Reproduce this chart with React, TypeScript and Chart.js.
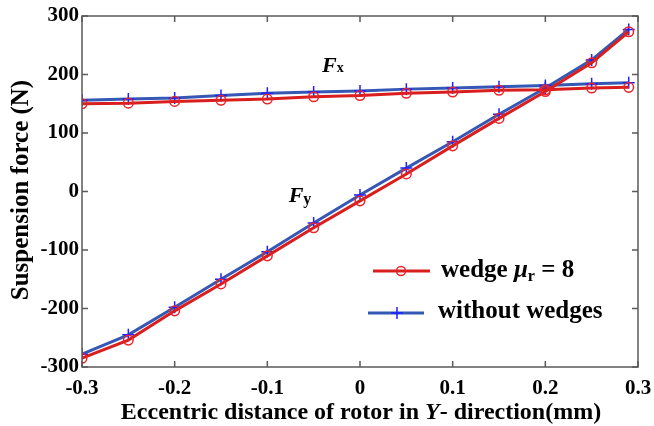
import React, { useEffect, useRef } from "react";
import { Chart, registerables } from "chart.js";

Chart.register(...registerables);

const xValues = [-0.3, -0.25, -0.2, -0.15, -0.1, -0.05, 0, 0.05, 0.1, 0.15, 0.2, 0.25, 0.29];
const fxWedge = [150, 151, 154, 156, 158, 162, 164, 168, 170, 173, 174, 177, 178];
const fxWithout = [156, 158, 160, 164, 168, 170, 172, 175, 177, 179, 181, 184, 186];
const fyWedge = [-285, -254, -204, -158, -110, -62, -16, 30, 78, 125, 171, 220, 273];
const fyWithout = [-278, -245, -198, -150, -103, -54, -6, 40, 85, 132, 177, 225, 277];

const xTickValues = [-0.3, -0.2, -0.1, 0, 0.1, 0.2, 0.3];
const xTickLabels = ["-0.3", "-0.2", "-0.1", "0", "0.1", "0.2", "0.3"];
const yTickValues = [-300, -200, -100, 0, 100, 200, 300];
const yTickLabels = ["-300", "-200", "-100", "0", "100", "200", "300"];

const legendWedge = "wedge ";
const legendWithout = "without wedges";
const xTitleParts = ["Eccentric distance of rotor in ", "Y", "- direction(mm)"];
const yTitle = "Suspension force (N)";

const RED = "#d91e1e";
const RED_MARK = "#e8262a";
const BLUE = "#3558b5";
const BLUE_MARK = "#1f1fff";
const SERIF = "'Liberation Serif', 'Times New Roman', serif";

type Run = { text: string; font: string; dy?: number };

function drawRuns(ctx: CanvasRenderingContext2D, x: number, y: number, runs: Run[], align: "left" | "center" = "left") {
  let total = 0;
  for (const r of runs) {
    ctx.font = r.font;
    total += ctx.measureText(r.text).width;
  }
  let cx = align === "center" ? x - total / 2 : x;
  ctx.textAlign = "left";
  ctx.textBaseline = "alphabetic";
  for (const r of runs) {
    ctx.font = r.font;
    ctx.fillText(r.text, cx, y + (r.dy || 0));
    cx += ctx.measureText(r.text).width;
  }
}

const decorPlugin = {
  id: "decor",
  afterDraw(chart: any) {
    const ctx: CanvasRenderingContext2D = chart.ctx;
    const { left, right, top, bottom } = chart.chartArea;
    const xs = chart.scales.x;
    const ys = chart.scales.y;
    ctx.save();
    // frame
    ctx.strokeStyle = "#5a5a5a";
    ctx.lineWidth = 1.5;
    ctx.strokeRect(left, top, right - left, bottom - top);
    const tl = 6;
    ctx.beginPath();
    for (const v of xTickValues) {
      const px = xs.getPixelForValue(v);
      ctx.moveTo(px, bottom);
      ctx.lineTo(px, bottom - tl);
      ctx.moveTo(px, top);
      ctx.lineTo(px, top + tl);
    }
    for (const v of yTickValues) {
      const py = ys.getPixelForValue(v);
      ctx.moveTo(left, py);
      ctx.lineTo(left + tl, py);
      ctx.moveTo(right, py);
      ctx.lineTo(right - tl, py);
    }
    ctx.stroke();

    ctx.fillStyle = "#000";
    // x title
    drawRuns(
      ctx,
      361,
      419,
      [
        { text: xTitleParts[0], font: `bold 24px ${SERIF}` },
        { text: xTitleParts[1], font: `italic bold 24px ${SERIF}` },
        { text: xTitleParts[2], font: `bold 24px ${SERIF}` },
      ],
      "center"
    );
    // y title
    ctx.save();
    ctx.translate(28, 190);
    ctx.rotate(-Math.PI / 2);
    drawRuns(ctx, 0, 0, [{ text: yTitle, font: `bold 25px ${SERIF}` }], "center");
    ctx.restore();

    // Fx / Fy labels
    drawRuns(ctx, xs.getPixelForValue(-0.041), ys.getPixelForValue(205), [
      { text: "F", font: `italic bold 22px ${SERIF}` },
      { text: "x", font: `bold 14px ${SERIF}` },
    ]);
    drawRuns(ctx, xs.getPixelForValue(-0.077), ys.getPixelForValue(-18), [
      { text: "F", font: `italic bold 22px ${SERIF}` },
      { text: "y", font: `bold 16px ${SERIF}`, dy: 2 },
    ]);

    // legend
    const l1y = 271;
    const l2y = 313;
    ctx.lineWidth = 3;
    ctx.strokeStyle = RED;
    ctx.beginPath();
    ctx.moveTo(373, l1y);
    ctx.lineTo(430, l1y);
    ctx.stroke();
    ctx.lineWidth = 1.5;
    ctx.strokeStyle = RED_MARK;
    ctx.beginPath();
    ctx.arc(401, l1y, 4.5, 0, Math.PI * 2);
    ctx.stroke();

    ctx.lineWidth = 3;
    ctx.strokeStyle = BLUE;
    ctx.beginPath();
    ctx.moveTo(368, l2y);
    ctx.lineTo(424, l2y);
    ctx.stroke();
    ctx.lineWidth = 1.5;
    ctx.strokeStyle = BLUE_MARK;
    ctx.beginPath();
    ctx.moveTo(397, l2y - 6);
    ctx.lineTo(397, l2y + 6);
    ctx.moveTo(391, l2y);
    ctx.lineTo(403, l2y);
    ctx.stroke();

    ctx.fillStyle = "#000";
    drawRuns(ctx, 441, 277, [
      { text: legendWedge, font: `bold 25px ${SERIF}` },
      { text: "\u03bc", font: `italic bold 25px ${SERIF}` },
      { text: "r", font: `bold 16px ${SERIF}`, dy: 4 },
      { text: " = 8", font: `bold 25px ${SERIF}` },
    ]);
    drawRuns(ctx, 438, 318, [{ text: legendWithout, font: `bold 25px ${SERIF}` }]);
    ctx.restore();
  },
};

function pts(ys: number[]) {
  return xValues.map((x, i) => ({ x, y: ys[i] }));
}

export default function App() {
  const ref = useRef<HTMLCanvasElement>(null);
  useEffect(() => {
    if (!ref.current) return;
    const redStyle = {
      borderColor: RED,
      borderWidth: 3,
      pointStyle: "circle",
      pointRadius: 4.8,
      pointBorderColor: RED_MARK,
      pointBackgroundColor: "rgba(0,0,0,0)",
      pointBorderWidth: 1.5,
      tension: 0,
    };
    const blueStyle = {
      borderColor: BLUE,
      borderWidth: 3,
      pointStyle: "cross",
      pointRadius: 6,
      pointBorderColor: BLUE_MARK,
      pointBackgroundColor: BLUE_MARK,
      pointBorderWidth: 1.5,
      tension: 0,
    };
    const chart = new Chart(ref.current, {
      type: "line",
      data: {
        datasets: [
          { label: "Fx wedge", data: pts(fxWedge), ...redStyle, order: 0 },
          { label: "Fy wedge", data: pts(fyWedge), ...redStyle, order: 0 },
          { label: "Fx without", data: pts(fxWithout), ...blueStyle, order: 1 },
          { label: "Fy without", data: pts(fyWithout), ...blueStyle, order: 1 },
        ] as any,
      },
      options: {
        animation: false,
        responsive: false,
        layout: { padding: { left: 0, right: 16, top: 16, bottom: 0 } },
        plugins: { legend: { display: false }, tooltip: { enabled: false } },
        scales: {
          x: {
            type: "linear",
            min: -0.3,
            max: 0.3,
            afterBuildTicks: (s: any) => {
              s.ticks = xTickValues.map((v) => ({ value: v }));
            },
            afterFit: (s: any) => {
              s.height = 59;
              s.paddingLeft = 0;
              s.paddingRight = 0;
            },
            grid: { display: false, drawTicks: false },
            border: { display: false },
            ticks: {
              padding: 9,
              color: "#000",
              font: { family: SERIF, size: 21, weight: "bold" },
              maxRotation: 0,
              autoSkip: false,
              callback: (_v: any, i: number) => xTickLabels[i],
            },
          },
          y: {
            type: "linear",
            min: -300,
            max: 300,
            afterBuildTicks: (s: any) => {
              s.ticks = yTickValues.map((v) => ({ value: v }));
            },
            afterFit: (s: any) => {
              s.width = 82;
              s.paddingTop = 0;
              s.paddingBottom = 0;
            },
            grid: { display: false, drawTicks: false },
            border: { display: false },
            ticks: {
              padding: 3,
              color: "#000",
              font: { family: SERIF, size: 21, weight: "bold" },
              autoSkip: false,
              callback: (_v: any, i: number) => yTickLabels[i],
            },
          },
        },
      },
      plugins: [decorPlugin],
    } as any);
    return () => chart.destroy();
  }, []);
  return (
    <div style={{ position: "fixed", left: 0, top: 0, width: 654, height: 426, background: "#fff" }}>
      <canvas ref={ref} width={654} height={426} />
    </div>
  );
}
